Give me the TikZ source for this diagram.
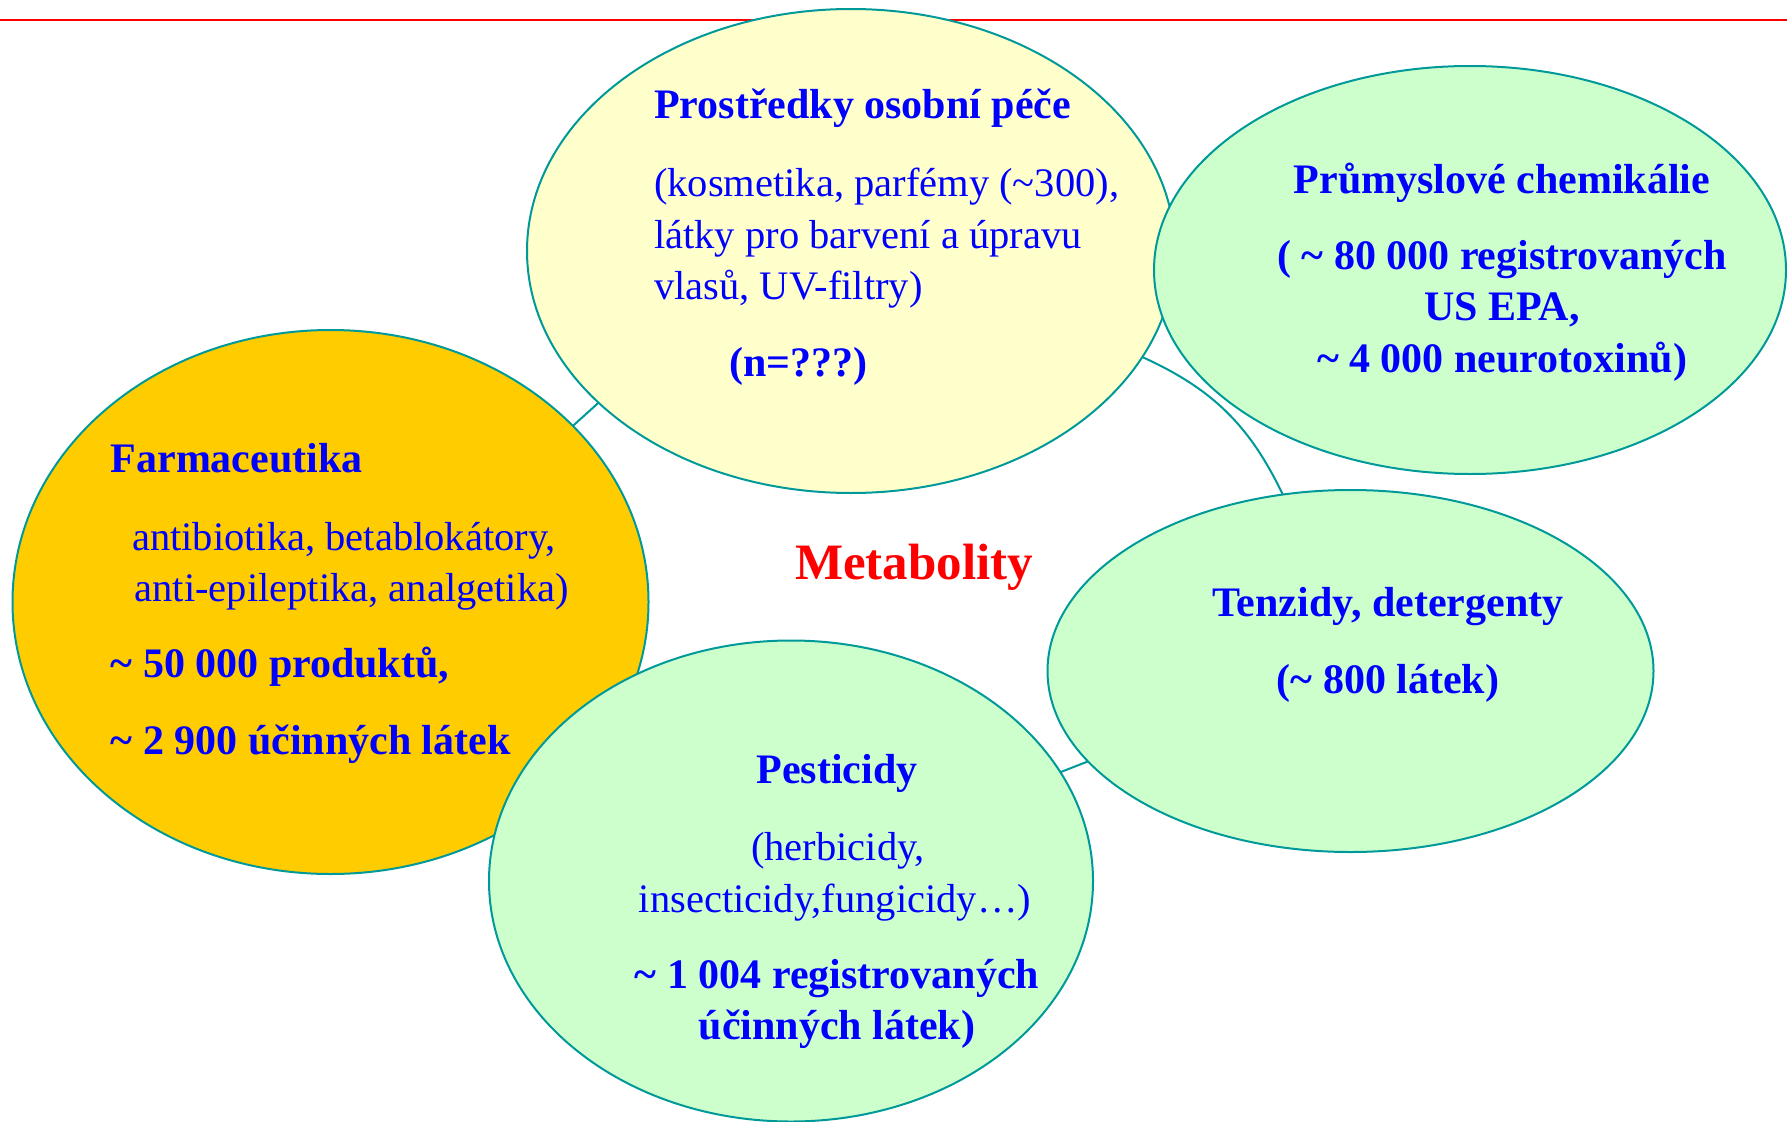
\documentclass[tikz,border=0pt]{standalone}
\usepackage{fontspec}
\setmainfont{Liberation Serif}
\usetikzlibrary{shapes.geometric}
\definecolor{rim}{HTML}{009999}
\definecolor{yell}{HTML}{FFFFCC}
\definecolor{grn}{HTML}{CCFFCC}
\definecolor{orng}{HTML}{FFCC00}
\newcommand{\tld}{\textasciitilde}
\begin{document}
\begin{tikzpicture}[x=1pt,y=-1pt,
  bub/.style={ellipse, draw=rim, line width=2pt, inner sep=0pt, outer sep=0pt},
  bt/.style={text=blue, font=\fontsize{42}{50}\selectfont\bfseries, inner sep=0pt},
  rt/.style={text=blue, font=\fontsize{40.5}{48}\selectfont, inner sep=0pt},
  link/.style={draw=rim, line width=2pt}]
\useasboundingbox (0,0) rectangle (1787,1121);
\coordinate (rl) at (0,20);
\coordinate (rr) at (1787,20);
\draw[red, line width=2pt] (rl) -- (rr);
% bubbles
\node[bub, fill=yell, minimum width=648pt, minimum height=484pt] (pece) at (851,251) {};
\node[bub, fill=grn, minimum width=632pt, minimum height=408pt] (prum) at (1470,270) {};
\node[bub, fill=orng, minimum width=636pt, minimum height=544pt] (farm) at (330.5,602) {};
\node[bub, fill=grn, minimum width=606pt, minimum height=362pt] (tenz) at (1350.5,671) {};
\node[bub, fill=grn, minimum width=604pt, minimum height=481pt] (pest) at (791,881) {};
% connectors
\draw[link] (farm.36) -- (pece.211);
\draw[link] (pece.-20) to[bend left=20] (tenz.111);
\draw[link] (pest.22) -- (tenz.199);
% texts: osobni pece
\node[bt, anchor=base west] (p1) at (654,119) {Prostředky osobní péče};
\node[rt, anchor=base west] (p2) at (654,196) {(kosmetika, parfémy (\tld300),};
\node[rt, anchor=base west] (p3) at (654,248) {látky pro barvení a úpravu};
\node[rt, anchor=base west] (p4) at (654,299) {vlasů, UV-filtry)};
\node[bt, anchor=base west] (p5) at (729,376) {(n=???)};
% prumyslove
\node[bt, anchor=base] (c1) at (1502,193) {Průmyslové chemikálie};
\node[bt, anchor=base] (c2) at (1502,269) {( \tld\ 80 000 registrovaných};
\node[bt, anchor=base] (c3) at (1502,320) {US EPA,};
\node[bt, anchor=base] (c4) at (1502,372) {\tld\ 4 000 neurotoxinů)};
% farmaceutika
\node[bt, anchor=base west] (f1) at (110.5,472) {Farmaceutika};
\node[rt, anchor=base west] (f2) at (132,550) {antibiotika, betablokátory,};
\node[rt, anchor=base west] (f3) at (134.5,601) {anti-epileptika, analgetika)};
\node[bt, anchor=base west] (f4) at (110.5,677) {\tld\ 50 000 produktů,};
\node[bt, anchor=base west] (f5) at (110.5,754) {\tld\ 2 900 účinných látek};
% metabolity
\node[text=red, font=\fontsize{51}{60}\selectfont\bfseries, inner sep=0pt, anchor=base] (met) at (914,579) {Metabolity};
% tenzidy
\node[bt, anchor=base] (t1) at (1388,616) {Tenzidy, detergenty};
\node[bt, anchor=base] (t2) at (1388,693) {(\tld\ 800 látek)};
% pesticidy
\node[bt, anchor=base] (s1) at (837,783) {Pesticidy};
\node[rt, anchor=base] (s2) at (838,860) {(herbicidy,};
\node[rt, anchor=base] (s3) at (835,912) {insecticidy,fungicidy…)};
\node[bt, anchor=base] (s4) at (837,988) {\tld\ 1 004 registrovaných};
\node[bt, anchor=base] (s5) at (837,1039) {účinných látek)};
\end{tikzpicture}
\end{document}
